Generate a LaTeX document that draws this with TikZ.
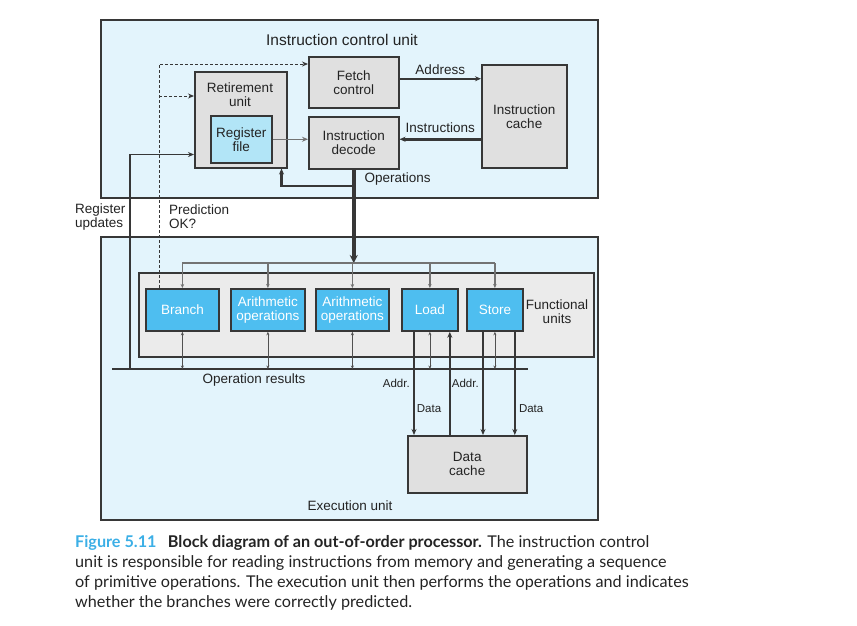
\documentclass[tikz,border=0pt]{standalone}
\usepackage{fontspec}
\setmainfont{Liberation Sans}
\newfontfamily\capfont{Lato}
\usetikzlibrary{arrows.meta}

\definecolor{edge}{RGB}{55,55,55}
\definecolor{ink}{RGB}{35,35,35}
\definecolor{panelblue}{RGB}{227,244,252}
\definecolor{boxgray}{RGB}{224,224,224}
\definecolor{fugray}{RGB}{235,235,235}
\definecolor{regblue}{RGB}{178,229,247}
\definecolor{unitblue}{RGB}{78,190,240}
\definecolor{wiregray}{RGB}{115,115,115}
\definecolor{thingray}{RGB}{80,80,80}
\definecolor{capblue}{RGB}{60,175,230}

\tikzset{
	box/.style={rectangle, anchor=north west, inner sep=0pt, line width=1.5pt, draw=edge},
	panel/.style={box, fill=panelblue},
	graybox/.style={box, fill=boxgray, text=ink, align=center},
	unitbox/.style={box, fill=unitblue, line width=1.8pt, text=white, align=center},
	lbl/.style={text=ink, align=center},
	small/.style={font=\fontsize{11.5}{13}\selectfont},
	arr/.style={-{Stealth[length=6pt,width=5pt]}},
	smallarr/.style={-{Stealth[length=4pt,width=3.5pt]}},
	dblarr/.style={{Stealth[length=3.5pt,width=3pt]}-{Stealth[length=3.5pt,width=3pt]}},
	wire/.style={draw=edge, line width=1.8pt},
	thickwire/.style={draw=edge, line width=2.6pt},
	opswire/.style={draw=edge, line width=4pt},
	graywire/.style={draw=wiregray, line width=1.3pt},
	thinwire/.style={draw=thingray, line width=0.8pt},
	dashwire/.style={draw=edge, line width=0.9pt, dash pattern=on 3pt off 2pt}
}

\begin{document}
\begin{tikzpicture}[x=1pt, y=-1pt, font=\fontsize{13.5}{14}\selectfont]
	\useasboundingbox (0,0) rectangle (857,625);
	% Rahmen
	\node[panel, minimum width=497pt, minimum height=178pt] (icu) at (100,19) {};
	\node[lbl, font=\fontsize{15.5}{17}\selectfont] (icutitle) at (342,40) {Instruction control unit};
	\node[panel, minimum width=497pt, minimum height=283pt] (exu) at (100,236) {};
	\node[lbl] (exutitle) at (350,506) {Execution unit};
	% Steuerwerk
	\node[graybox, minimum width=90pt, minimum height=51pt] (fetch) at (308,56) {Fetch\\control};
	\node[graybox, minimum width=90pt, minimum height=52pt] (decode) at (308,116) {Instruction\\decode};
	\node[graybox, minimum width=85pt, minimum height=103pt] (cache) at (481,64) {Instruction\\cache};
	\node[graybox, minimum width=92pt, minimum height=96pt] (retire) at (194,71) {};
	\node[lbl] (retlbl) at (240,95) {Retirement\\unit};
	\node[box, fill=regblue, text=ink, align=center, minimum width=61pt, minimum height=47pt] (regfile) at (210,115) {Register\\file};
	% Funktionseinheiten
	\node[box, fill=fugray, minimum width=455pt, minimum height=84pt] (fu) at (138,272) {};
	\node[lbl] (fulbl) at (557,312) {Functional\\units};
	\node[unitbox, minimum width=73pt, minimum height=42pt] (branch) at (145,288) {Branch};
	\node[unitbox, minimum width=74pt, minimum height=42pt] (arithA) at (230,288) {Arithmetic\\operations};
	\node[unitbox, minimum width=73pt, minimum height=42pt] (arithB) at (315,288) {Arithmetic\\operations};
	\node[unitbox, minimum width=56pt, minimum height=42pt] (load) at (401,288) {Load};
	\node[unitbox, minimum width=56pt, minimum height=42pt] (store) at (466,288) {Store};
	\node[graybox, minimum width=119pt, minimum height=57pt] (dcache) at (407,435) {Data\\cache};
	% Hilfspunkte
	\coordinate (addrA) at ([yshift=3.5pt]fetch.east);
	\coordinate (opsbus) at (0,263);
	\coordinate (fork) at (353,186);
	\coordinate (resL) at (112,369);
	\coordinate (resR) at (528,369);
	\coordinate (updx) at (130,0);
	\coordinate (pred) at ([xshift=14pt]branch.north west);
	\coordinate (fetchin) at ([yshift=-8pt]fetch.north west);
	\coordinate (retin) at ([yshift=-25pt]retire.north west);
	\coordinate (ldaddr) at ([xshift=13pt]load.south west);
	\coordinate (lddata) at ([xshift=-9pt]load.south east);
	\coordinate (staddr) at ([xshift=17pt]store.south west);
	\coordinate (stdata) at ([xshift=-9pt]store.south east);
	% Verbindungen oben
	\draw[wire, arr] (addrA) -- (addrA -| cache.west) node[lbl, midway, above] (addrlbl) {Address};
	\draw[thickwire, arr] (cache.west |- regfile.east) -- (regfile.east -| decode.east) node[lbl, midway, above=2pt] (instlbl) {Instructions};
	\draw[graywire, arr] (regfile.east) -- (regfile.east -| decode.west);
	\draw[opswire, -{Stealth[length=8pt,width=8pt]}] (decode.south) -- (decode.south |- opsbus);
	\draw[thickwire, arr] (fork) -| ([xshift=-6pt]retire.south east);
	\node[lbl, anchor=west] (opslbl) at (361,179) {Operations};
	% Rueckmeldungen
	\draw[wire, arr] (updx |- resL) |- ([yshift=14pt]retire.south west);
	\draw[dashwire, arr] (pred) |- (fetchin);
	\draw[dashwire, arr] (pred |- retin) -- (retin);
	\node[lbl, anchor=west, align=left, inner sep=0pt] (updlbl) at (75,217) {Register\\updates};
	\node[lbl, anchor=west, align=left, inner sep=0pt] (predlbl) at (169,217) {Prediction\\OK?};
	% Verteilung auf die Einheiten
	\draw[graywire] (branch.north |- opsbus) -- (store.north |- opsbus);
	\draw[graywire, smallarr] (branch.north |- opsbus) -- (branch.north);
	\draw[graywire, smallarr] (arithA.north |- opsbus) -- (arithA.north);
	\draw[graywire, smallarr] (arithB.north |- opsbus) -- (arithB.north);
	\draw[graywire, smallarr] (load.north |- opsbus) -- (load.north);
	\draw[graywire, smallarr] (store.north |- opsbus) -- (store.north);
	% Ergebnisbus
	\draw[wire] (resL) -- (resR);
	\node[lbl] (reslbl) at (254,380) {Operation results};
	\draw[thinwire, dblarr] (branch.south) -- (branch.south |- resL);
	\draw[thinwire, dblarr] (arithA.south) -- (arithA.south |- resL);
	\draw[thinwire, dblarr] (arithB.south) -- (arithB.south |- resL);
	\draw[thinwire, dblarr] (load.south) -- (load.south |- resL);
	\draw[thinwire, dblarr] (store.south) -- (store.south |- resL);
	% Speicherzugriffe
	\draw[wire, arr] (ldaddr) -- (ldaddr |- dcache.north) node[lbl, small, pos=0.5, left] (ldaddrlbl) {Addr.} node[lbl, small, pos=0.74, right, inner sep=2pt] (lddatalbl) {Data};
	\draw[wire, arr] (lddata |- dcache.north) -- (lddata);
	\draw[wire, arr] (staddr) -- (staddr |- dcache.north) node[lbl, small, pos=0.5, left] (staddrlbl) {Addr.};
	\draw[wire, arr] (stdata) -- (stdata |- dcache.north) node[lbl, small, pos=0.74, right] (stdatalbl) {Data};
	% Bildunterschrift
	\node[anchor=north west, align=left, inner sep=0pt, text=ink, font={\capfont\fontsize{16.2}{20}\selectfont}] (caption) at (75,535) {\textcolor{capblue}{\bfseries Figure 5.11}\hspace{0.7em}{\bfseries Block diagram of an out-of-order processor.} The instruction control\\unit is responsible for reading instructions from memory and generating a sequence\\of primitive operations. The execution unit then performs the operations and indicates\\whether the branches were correctly predicted.};
\end{tikzpicture}
\end{document}
